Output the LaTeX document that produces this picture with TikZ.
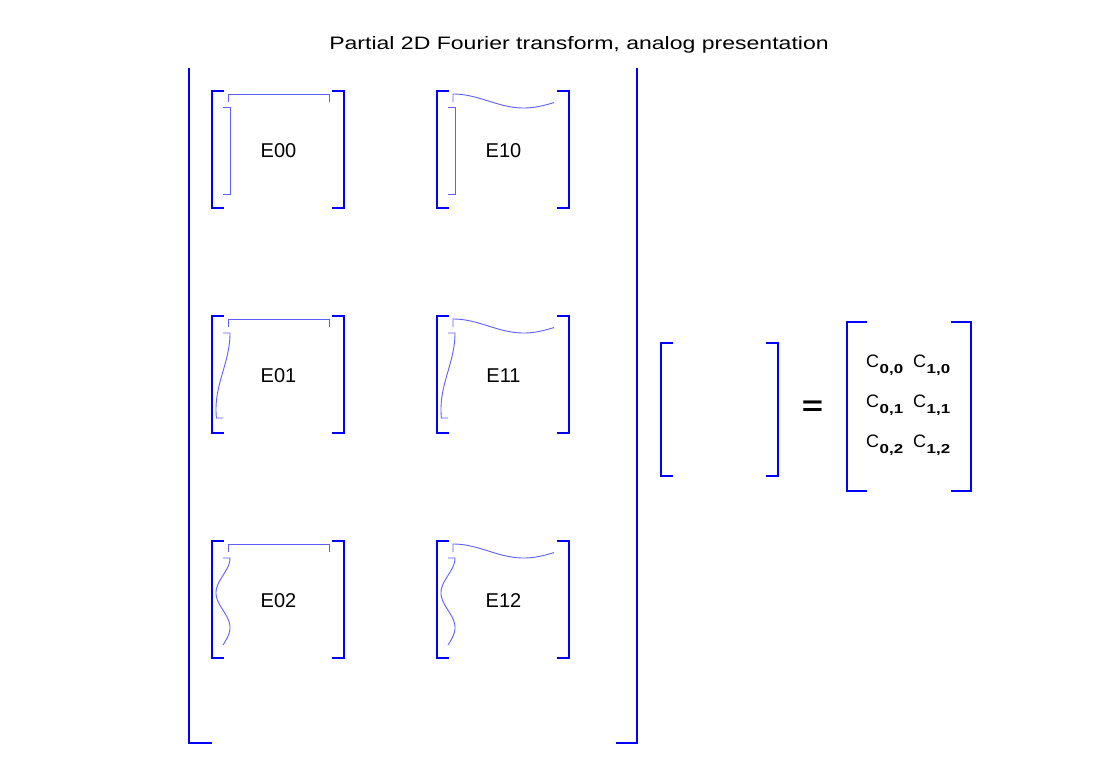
\documentclass[tikz,border=0pt]{standalone}
\usepackage{fontspec}
\usepackage{graphicx}
\setmainfont{Liberation Sans}
\definecolor{mblue}{RGB}{0,0,255}
\definecolor{lblue}{RGB}{95,95,255}
\newcommand\brpair[5]{%
  \draw[outer] (#1+#5,#2) -- (#1,#2) -- (#1,#4) -- (#1+#5,#4);
  \draw[outer] (#3-#5,#2) -- (#3,#2) -- (#3,#4) -- (#3-#5,#4);}
\newcommand\csub[1]{C\hspace{0.5pt}\raisebox{-6pt}{\scalebox{1.3}[1]{\fontsize{13}{13}\selectfont\bfseries #1}}}
\begin{document}
\begin{tikzpicture}[x=1pt,y=-1pt,
  outer/.style={draw=mblue, line width=1.1pt},
  inner/.style={draw=lblue, line width=0.9pt},
  lbl/.style={font=\fontsize{20}{24}\selectfont, inner sep=0pt, anchor=base},
  centry/.style={font=\fontsize{18}{20}\selectfont, inner sep=0pt, anchor=base west}]
\useasboundingbox (0,0) rectangle (1106,760);
\fill[white] (0,0) rectangle (1106,760);

\node[font=\fontsize{18}{20}\selectfont, inner sep=0pt, anchor=base] (title) at (579,50)
  {\scalebox{1.28}[1]{Partial 2D Fourier transform, analog presentation}};

% big bracket
\draw[outer] (189,68) -- (189,743) -- (212,743);
\draw[outer] (637,68) -- (637,743) -- (616,743);

\foreach \cx/\k in {212/0,437/1}{
  \foreach \cy/\l in {91/0,316/1,541/2}{
    \brpair{\cx}{\cy}{\cx+132}{\cy+117}{12}
    \node[lbl] (E\k\l) at (\cx+66.5,\cy+66) {E\k\l};
    \ifnum\k=0
      \draw[inner] (\cx+16,\cy+11) -- (\cx+16,\cy+3) -- (\cx+117,\cy+3) -- (\cx+117,\cy+11);
    \else
      \draw[inner] (\cx+16,\cy+11) -- (\cx+16,\cy+3)
        -- plot[domain=0:1, samples=50] ({\cx+16+101*\x},{\cy+10-7*cos(180*\x/0.7)});
    \fi
    \ifcase\l
      \draw[inner] (\cx+11,\cy+16) -- (\cx+18,\cy+16) -- (\cx+18,\cy+103) -- (\cx+11,\cy+103);
    \or
      \draw[inner] (\cx+11,\cy+17) -- (\cx+18,\cy+17)
        -- plot[domain=0:1, samples=50] ({\cx+11+7*cos(180*\x/0.9)},{\cy+17+85*\x})
        -- (\cx+11,\cy+102);
    \or
      \draw[inner] (\cx+11,\cy+17) -- (\cx+18,\cy+17)
        -- plot[domain=0:1, samples=60] ({\cx+11+7*cos(360*\x/0.8)},{\cy+17+87*\x});
    \fi
  }
}

% middle bracket
\brpair{661}{343}{778}{476}{12}
\node[font=\bfseries\fontsize{28}{28}\selectfont, inner sep=0pt] (eq) at (812.5,408) {\scalebox{1.3}[1]{=}};

% coefficient matrix
\brpair{847}{322}{971}{491}{20}
\node[centry] (c00) at (866,367) {\csub{0,0}};
\node[centry] (c10) at (913,367) {\csub{1,0}};
\node[centry] (c01) at (866,407) {\csub{0,1}};
\node[centry] (c11) at (913,407) {\csub{1,1}};
\node[centry] (c02) at (866,447) {\csub{0,2}};
\node[centry] (c12) at (913,447) {\csub{1,2}};
\end{tikzpicture}
\end{document}
